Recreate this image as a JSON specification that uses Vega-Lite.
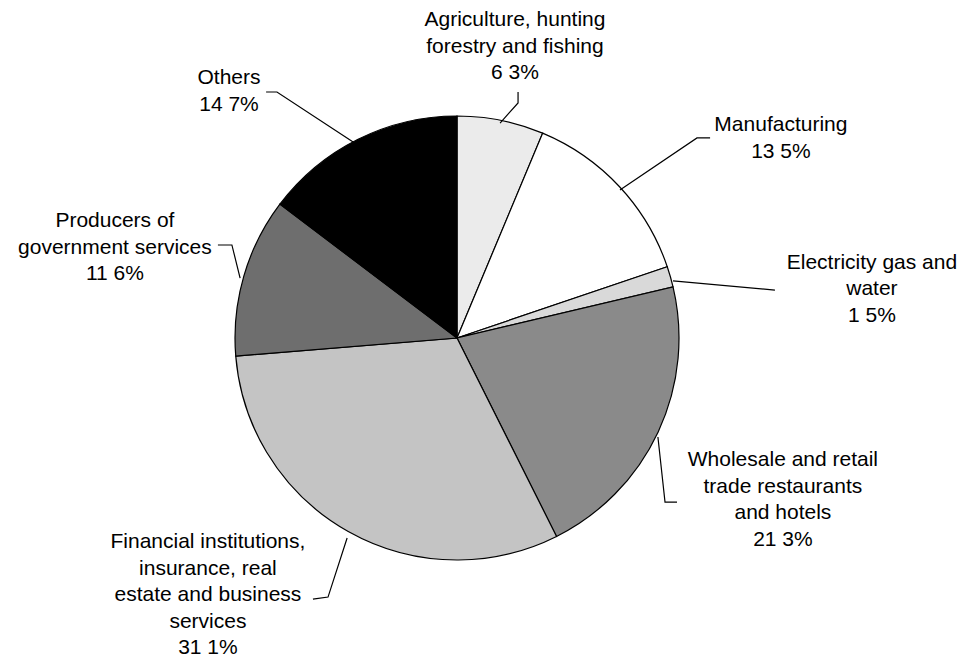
{
  "$schema": "https://vega.github.io/schema/vega-lite/v6.json",
  "width": 970,
  "height": 663,
  "padding": 0,
  "autosize": {"type": "none"},
  "background": "white",
  "config": {"view": {"stroke": null}},
  "layer": [
    {
      "data": {"values": [
        {"sector": "Agriculture, hunting, forestry and fishing", "share": 6.3, "idx": 1},
        {"sector": "Manufacturing", "share": 13.5, "idx": 2},
        {"sector": "Electricity, gas and water", "share": 1.5, "idx": 3},
        {"sector": "Wholesale and retail trade, restaurants and hotels", "share": 21.3, "idx": 4},
        {"sector": "Financial institutions, insurance, real estate and business services", "share": 31.1, "idx": 5},
        {"sector": "Producers of government services", "share": 11.6, "idx": 6},
        {"sector": "Others", "share": 14.7, "idx": 7}
      ]},
      "mark": {"type": "arc", "outerRadius": 222, "stroke": "black", "strokeWidth": 1.2},
      "encoding": {
        "x": {"datum": 0, "type": "quantitative", "scale": {"domain": [-205.86, 231.08], "nice": false, "zero": false}, "axis": null},
        "y": {"datum": 0, "type": "quantitative", "scale": {"domain": [-146.4, 152.25], "nice": false, "zero": false}, "axis": null},
        "theta": {"field": "share", "type": "quantitative", "stack": true},
        "order": {"field": "idx", "type": "quantitative"},
        "fill": {
          "field": "sector", "type": "nominal", "legend": null,
          "scale": {
            "domain": [
              "Agriculture, hunting, forestry and fishing",
              "Manufacturing",
              "Electricity, gas and water",
              "Wholesale and retail trade, restaurants and hotels",
              "Financial institutions, insurance, real estate and business services",
              "Producers of government services",
              "Others"
            ],
            "range": ["#ebebeb", "#ffffff", "#d9d9d9", "#8a8a8a", "#c4c4c4", "#6e6e6e", "#000000"]
          }
        }
      }
    },
    {
      "data": {"values": [
        {"id": "agr", "k": 1, "x": 27.5, "y": 110.8},
        {"id": "agr", "k": 2, "x": 27.5, "y": 105.9},
        {"id": "agr", "k": 3, "x": 19.4, "y": 96.8},
        {"id": "man", "k": 1, "x": 114.0, "y": 90.1},
        {"id": "man", "k": 2, "x": 108.1, "y": 90.1},
        {"id": "man", "k": 3, "x": 73.4, "y": 66.7},
        {"id": "ele", "k": 1, "x": 143.2, "y": 21.6},
        {"id": "ele", "k": 2, "x": 97.3, "y": 25.7},
        {"id": "who", "k": 1, "x": 99.1, "y": -73.9},
        {"id": "who", "k": 2, "x": 93.7, "y": -73.9},
        {"id": "who", "k": 3, "x": 90.5, "y": -44.6},
        {"id": "fin", "k": 1, "x": -64.9, "y": -117.6},
        {"id": "fin", "k": 2, "x": -58.1, "y": -116.7},
        {"id": "fin", "k": 3, "x": -49.5, "y": -90.1},
        {"id": "pro", "k": 1, "x": -107.7, "y": 41.9},
        {"id": "pro", "k": 2, "x": -101.4, "y": 41.9},
        {"id": "pro", "k": 3, "x": -97.7, "y": 27.0},
        {"id": "oth", "k": 1, "x": -86.0, "y": 110.8},
        {"id": "oth", "k": 2, "x": -81.1, "y": 110.8},
        {"id": "oth", "k": 3, "x": -46.8, "y": 88.3}
      ]},
      "mark": {"type": "line", "stroke": "black", "strokeWidth": 1.2},
      "encoding": {
        "x": {"field": "x", "type": "quantitative", "axis": null},
        "y": {"field": "y", "type": "quantitative", "axis": null},
        "detail": {"field": "id"},
        "order": {"field": "k", "type": "quantitative"}
      }
    },
    {
      "data": {"values": [
        {"label": "Agriculture, hunting\nforestry and fishing\n6 3%", "x": 26.1, "y": 143.2},
        {"label": "Manufacturing\n13 5%", "x": 145.9, "y": 95.9},
        {"label": "Electricity  gas and\nwater\n1 5%", "x": 186.9, "y": 33.8},
        {"label": "Wholesale and retail\ntrade  restaurants\nand hotels\n21 3%", "x": 146.8, "y": -55.0},
        {"label": "Financial institutions,\ninsurance, real\nestate and business\nservices\n31 1%", "x": -112.2, "y": -91.9},
        {"label": "Producers of\ngovernment services\n11 6%", "x": -154.1, "y": 52.7},
        {"label": "Others\n14 7%", "x": -102.7, "y": 117.1}
      ]},
      "mark": {"type": "text", "lineBreak": "\n", "font": "Liberation Sans", "fontSize": 21, "lineHeight": 26.5, "align": "center", "baseline": "middle", "color": "black"},
      "encoding": {
        "x": {"field": "x", "type": "quantitative", "axis": null},
        "y": {"field": "y", "type": "quantitative", "axis": null},
        "text": {"field": "label"}
      }
    }
  ]
}
